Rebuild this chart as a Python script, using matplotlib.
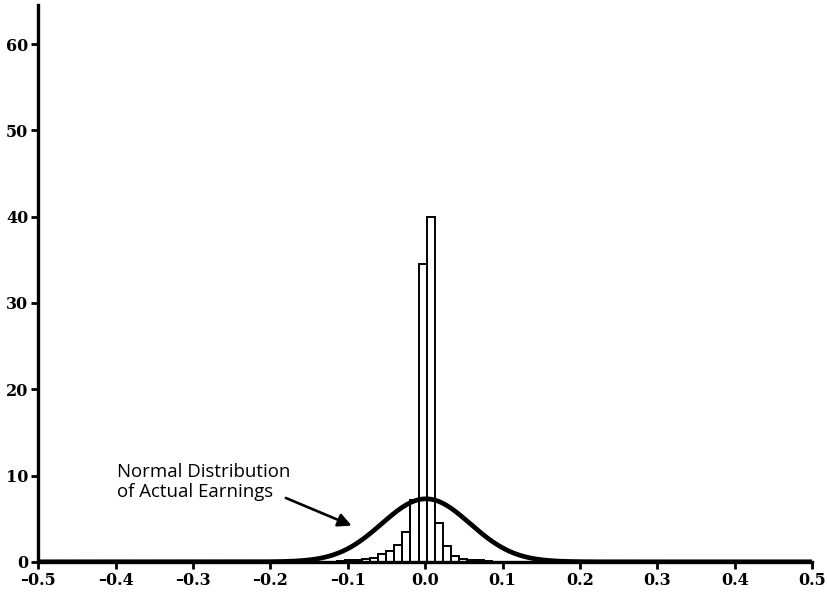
import numpy as np
import matplotlib
matplotlib.use("Agg")
import matplotlib.pyplot as plt

# histogram of earnings surprises (bar heights)
bin_width = 0.0105
split = 0.002          # edge between the two tallest bars
left_heights = [34.5, 7.2, 3.4, 2.0, 1.2, 0.85, 0.45, 0.3, 0.25, 0.2, 0.15]   # going left from split
right_heights = [40.0, 4.5, 1.8, 0.7, 0.35, 0.25, 0.2, 0.15]                  # going right from split

# normal curve fitted to the actual earnings
curve_mean = 0.001
curve_sd = 0.057
curve_peak = 7.3

x_ticks = [-0.5, -0.4, -0.3, -0.2, -0.1, 0.0, 0.1, 0.2, 0.3, 0.4, 0.5]
y_ticks = [0, 10, 20, 30, 40, 50, 60]

fig = plt.figure(figsize=(8.28, 5.92), dpi=100)
ax = fig.add_axes([0.046, 0.051, 0.935, 0.94])

lefts = [split - (i + 1) * bin_width for i in range(len(left_heights))]
lefts += [split + i * bin_width for i in range(len(right_heights))]
heights = left_heights + right_heights
ax.bar(lefts, heights, width=bin_width, align='edge', color='white',
       edgecolor='black', linewidth=1.4, zorder=2)

x = np.linspace(-0.5, 0.5, 1000)
y = curve_peak * np.exp(-0.5 * ((x - curve_mean) / curve_sd) ** 2)
ax.plot(x, y, color='black', linewidth=3.4, zorder=3)

ax.text(-0.398, 11.4, 'Normal Distribution\nof Actual Earnings', fontsize=13.4,
        family='Open Sans', fontweight='medium', ha='left', va='top', linespacing=1.12)
ax.annotate('', xy=(-0.095, 4.2), xytext=(-0.18, 7.4),
            arrowprops=dict(arrowstyle='-|>', color='black', lw=1.9, mutation_scale=20,
                            shrinkA=0, shrinkB=0))

ax.set_xlim(-0.5, 0.5)
ax.set_ylim(0, 64.5)
ax.set_xticks(x_ticks)
ax.set_xticklabels(['%.1f' % t if t >= 0 else '\u2013%.1f' % -t for t in x_ticks])
ax.set_yticks(y_ticks)

for s in ['top', 'right']:
    ax.spines[s].set_visible(False)
for s in ['left', 'bottom']:
    ax.spines[s].set_linewidth(2.4)
ax.tick_params(width=2, length=5, pad=2, direction='out')
for lab in ax.get_xticklabels() + ax.get_yticklabels():
    lab.set_family('DejaVu Serif')
    lab.set_fontweight('bold')
    lab.set_fontsize(11.5)

fig.savefig('out.png', dpi=100)
